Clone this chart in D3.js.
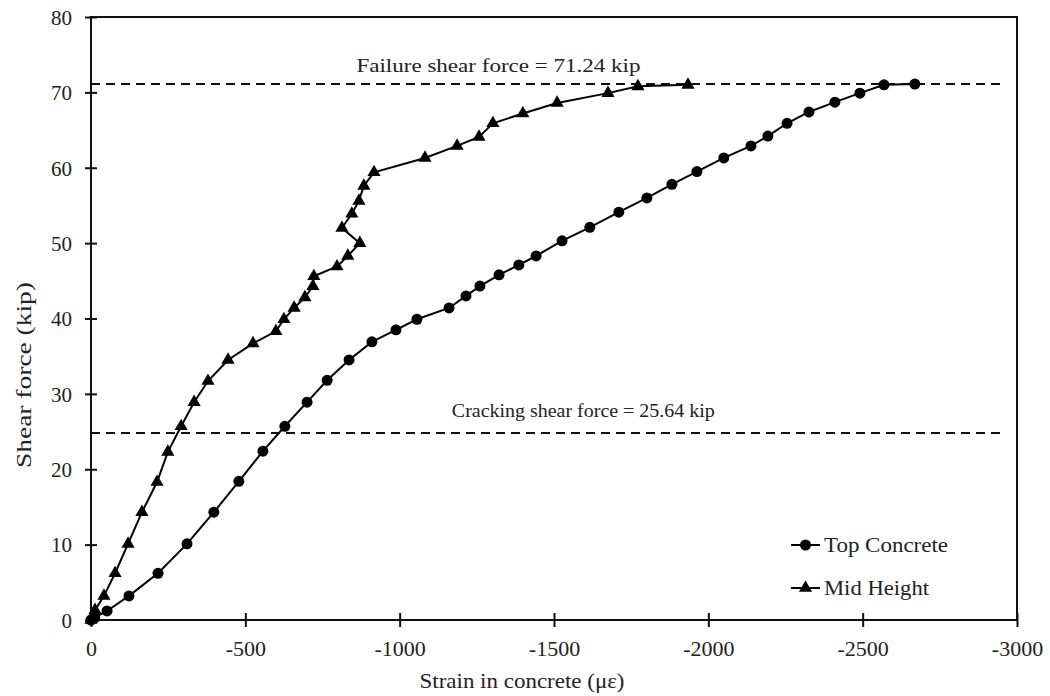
<!DOCTYPE html>
<html lang="en">
<head>
    <meta charset="UTF-8">
    <title>Shear force vs strain</title>
    <script src="https://d3js.org/d3.v7.min.js"></script>
    <style>
        * { margin: 0; padding: 0; box-sizing: border-box; }
        body { background: #fff; font-family: "Liberation Serif", "Times New Roman", serif; }
        svg text { fill: #222; }
    </style>
</head>
<body>
    <div id="chart"></div>
    <script>
        // data (strain in με, force in kip)
        const topStrain = [0, -12, -52, -123, -217, -311, -398, -479, -557, -628, -700, -765, -836, -910,
            -988, -1056, -1160, -1215, -1260, -1322, -1386, -1442, -1526, -1616, -1710, -1801, -1882,
            -1963, -2050, -2138, -2193, -2255, -2326, -2410, -2491, -2569, -2669];
        const topForce = [0, 0.3, 1.2, 3.2, 6.2, 10.1, 14.3, 18.4, 22.4, 25.7, 28.9, 31.8, 34.5, 36.9,
            38.5, 39.9, 41.4, 43.0, 44.3, 45.8, 47.1, 48.3, 50.3, 52.1, 54.1, 56.0, 57.8,
            59.5, 61.3, 62.9, 64.2, 65.9, 67.4, 68.7, 69.9, 71.0, 71.1];

        const midStrain = [0, -5, -13, -42, -78, -120, -165, -214, -249, -292, -334, -379, -444, -525,
            -599, -625, -658, -693, -719, -722, -797, -832, -871, -813, -845, -868, -884, -917,
            -1082, -1186, -1257, -1302, -1399, -1510, -1675, -1772, -1934];
        const midForce = [0, 0.5, 1.3, 3.2, 6.2, 10.1, 14.3, 18.3, 22.3, 25.7, 28.9, 31.7, 34.5, 36.7,
            38.3, 39.9, 41.4, 42.8, 44.3, 45.6, 46.9, 48.3, 50.0, 52.0, 53.9, 55.6, 57.6, 59.4,
            61.3, 62.9, 64.1, 65.9, 67.2, 68.6, 69.9, 70.8, 71.0];

        const xTicks = [0, -500, -1000, -1500, -2000, -2500, -3000];
        const yTicks = [0, 10, 20, 30, 40, 50, 60, 70, 80];

        const refLines = [
            { value: 71.1, label: "Failure shear force = 71.24 kip", labelX: -1320, gap: 12, len: 284 },
            { value: 24.8, label: "Cracking shear force = 25.64 kip", labelX: -1595, gap: 16, len: 263 }
        ];

        const W = 1050, H = 696;
        const svg = d3.select("#chart").append("svg")
            .attr("width", W).attr("height", H);

        const x = d3.scaleLinear().domain([0, -3000]).range([91, 1017]);
        const y = d3.scaleLinear().domain([0, 80]).range([620, 17]);

        // frame
        svg.append("rect")
            .attr("x", x(0)).attr("y", y(80))
            .attr("width", x(-3000) - x(0)).attr("height", y(0) - y(80))
            .attr("fill", "none").attr("stroke", "#111").attr("stroke-width", 2);

        // reference dashed lines
        refLines.forEach(r => {
            svg.append("line")
                .attr("x1", x(0)).attr("x2", x(-2960))
                .attr("y1", y(r.value)).attr("y2", y(r.value))
                .attr("stroke", "#111").attr("stroke-width", 2)
                .attr("stroke-dasharray", "9,6");
            svg.append("text")
                .attr("x", x(r.labelX)).attr("y", y(r.value) - r.gap)
                .attr("text-anchor", "middle")
                .attr("textLength", r.len).attr("lengthAdjust", "spacingAndGlyphs")
                .style("font-size", "19px")
                .text(r.label);
        });

        // axes
        const xAxis = svg.append("g")
            .attr("transform", `translate(0,${y(0)})`)
            .call(d3.axisBottom(x).tickValues(xTicks).tickSize(0).tickFormat(d => String(d)));
        xAxis.select(".domain").remove();
        xAxis.selectAll(".tick line").remove();
        xAxis.selectAll(".tick").append("line")
            .attr("y1", -7).attr("y2", 7)
            .attr("stroke", "#111").attr("stroke-width", 2);
        xAxis.selectAll(".tick text")
            .attr("y", 36).attr("dy", 0)
            .style("font-size", "22px").style("font-family", "Liberation Serif").attr("fill", "#222");

        const yAxis = svg.append("g")
            .attr("transform", `translate(${x(0)},0)`)
            .call(d3.axisLeft(y).tickValues(yTicks).tickSize(0).tickFormat(d => String(d)));
        yAxis.select(".domain").remove();
        yAxis.selectAll(".tick line").remove();
        yAxis.selectAll(".tick").append("line")
            .attr("x1", -6).attr("x2", 6)
            .attr("stroke", "#111").attr("stroke-width", 2);
        yAxis.selectAll(".tick text")
            .attr("x", -19).attr("dy", "0.35em")
            .style("font-size", "21px").style("font-family", "Liberation Serif").attr("fill", "#222");

        // axis titles
        svg.append("text")
            .attr("x", 522).attr("y", 688)
            .attr("text-anchor", "middle")
            .attr("textLength", 205).attr("lengthAdjust", "spacingAndGlyphs")
            .style("font-size", "21px")
            .text("Strain in concrete (με)");

        svg.append("text")
            .attr("transform", `translate(31,${375}) rotate(-90)`)
            .attr("text-anchor", "middle")
            .attr("textLength", 186).attr("lengthAdjust", "spacingAndGlyphs")
            .style("font-size", "20px")
            .text("Shear force (kip)");

        // series
        const series = [
            { name: "Top Concrete", xs: topStrain, ys: topForce, shape: "circle", len: 124 },
            { name: "Mid Height", xs: midStrain, ys: midForce, shape: "triangle", len: 105 }
        ];

        const line = d3.line().x(d => x(d[0])).y(d => y(d[1]));
        const tri = d3.symbol().type(d3.symbolTriangle).size(75);

        function drawMarker(g, shape, cx, cy) {
            if (shape === "circle") {
                g.append("circle").attr("cx", cx).attr("cy", cy).attr("r", 5.5).attr("fill", "#000");
            } else {
                g.append("path").attr("d", tri).attr("transform", `translate(${cx},${cy})`).attr("fill", "#000");
            }
        }

        series.forEach(s => {
            const pts = s.xs.map((v, i) => [v, s.ys[i]]);
            svg.append("path")
                .attr("d", line(pts))
                .attr("fill", "none").attr("stroke", "#000").attr("stroke-width", 2);
            const g = svg.append("g");
            pts.forEach(p => drawMarker(g, s.shape, x(p[0]), y(p[1])));
        });

        // legend
        const legend = svg.append("g").attr("transform", "translate(791,545)");
        series.forEach((s, i) => {
            const row = legend.append("g").attr("transform", `translate(0,${i * 43})`);
            row.append("line").attr("x1", 0).attr("x2", 29).attr("y1", 0).attr("y2", 0)
                .attr("stroke", "#000").attr("stroke-width", 2);
            drawMarker(row, s.shape, 14.5, 0);
            row.append("text").attr("x", 33).attr("y", 7)
                .attr("textLength", s.len).attr("lengthAdjust", "spacingAndGlyphs")
                .style("font-size", "21px").text(s.name);
        });
    </script>
</body>
</html>
